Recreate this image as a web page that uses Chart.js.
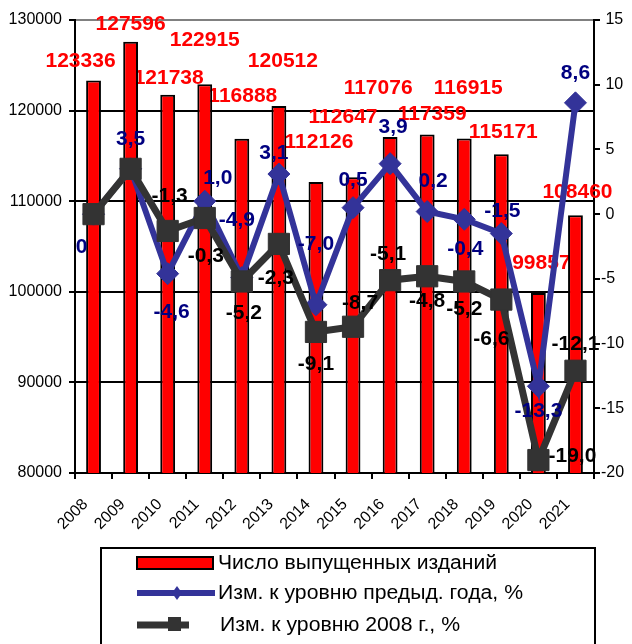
<!DOCTYPE html>
<html>
<head>
<meta charset="utf-8">
<script src="https://cdn.jsdelivr.net/npm/chart.js@4.4.1/dist/chart.umd.min.js"></script>
<style>
  html, body { margin: 0; padding: 0; background: #fff; }
</style>
</head>
<body>
<canvas id="chart" width="632" height="644"></canvas>
<script>
const years = ['2008', '2009', '2010', '2011', '2012', '2013', '2014', '2015', '2016', '2017', '2018', '2019', '2020', '2021'];
const editions = [123336, 127596, 121738, 122915, 116888, 120512, 112126, 112647, 117076, 117359, 116915, 115171, 99857, 108460];
const changePrevYear = [0, 3.5, -4.6, 1.0, -4.9, 3.1, -7.0, 0.5, 3.9, 0.2, -0.4, -1.5, -13.3, 8.6];
const change2008 = [0, 3.5, -1.3, -0.3, -5.2, -2.3, -9.1, -8.7, -5.1, -4.8, -5.2, -6.6, -19.0, -12.1];
const leftTicks = [80000, 90000, 100000, 110000, 120000, 130000];
const rightTicks = [-20, -15, -10, -5, 0, 5, 10, 15];
const legendNames = ['Число выпущенных изданий', 'Изм. к уровню предыд. года, %', 'Изм. к уровню 2008 г., %'];

// label nudges in px, relative to each mark (Excel placed them by hand)
const barLabelShift = [[-13, -19], [0, -18], [1, -17], [0, -44], [1, -43], [4, -45], [3, -40],
  [-10, -60], [-12, -49], [5, -20], [4, -50], [2, -22], [3, -30], [2, -23]];
const prevLabelShift = [[-12, 33], [0, -30], [4, 39], [13, -23], [-5, -57], [-5, -21], [0, -61],
  [0, -27], [3, -36], [6, -30], [1, 30], [1, -22], [0, 25], [0, -30]];
const baseLabelShift = [null, null, [2, -35], [1, 38], [2, 32], [-3, 34], [0, 32],
  [7, -24], [-2, -26], [0, 25], [0, 28], [-10, 40], [34, -4], [0, -27]];

const FONT = '"Liberation Sans", Arial, sans-serif';
const fmt = v => (v === 0 ? '0' : v.toFixed(1).replace('.', ','));

const labelPlugin = {
  id: 'valueLabels',
  beforeDatasetsDraw(chart) {
    // bar labels go under the bars, like in the original
    const ctx = chart.ctx;
    const bars = chart.getDatasetMeta(0).data;
    ctx.save();
    ctx.font = 'bold 21px ' + FONT;
    ctx.fillStyle = '#ff0000';
    ctx.textAlign = 'center';
    ctx.textBaseline = 'middle';
    bars.forEach((b, i) => {
      const s = barLabelShift[i];
      ctx.fillText(String(editions[i]), b.x + s[0], b.y + s[1]);
    });
    ctx.restore();
  },
  afterDatasetsDraw(chart) {
    const ctx = chart.ctx;
    ctx.save();
    ctx.font = 'bold 21px ' + FONT;
    ctx.textAlign = 'center';
    ctx.textBaseline = 'middle';
    ctx.fillStyle = '#000080';
    chart.getDatasetMeta(1).data.forEach((p, i) => {
      const s = prevLabelShift[i];
      ctx.fillText(fmt(changePrevYear[i]), p.x + s[0], p.y + s[1]);
    });
    ctx.fillStyle = '#000';
    chart.getDatasetMeta(2).data.forEach((p, i) => {
      const s = baseLabelShift[i];
      if (!s) return;
      ctx.fillText(fmt(change2008[i]), p.x + s[0], p.y + s[1]);
    });
    ctx.restore();
  },
  afterDraw(chart) {
    // legend box under the axis
    const ctx = chart.ctx;
    ctx.save();
    ctx.strokeStyle = '#000';
    ctx.lineWidth = 2;
    ctx.strokeRect(101, 548, 494, 110);

    ctx.fillStyle = '#ff0000';
    ctx.fillRect(137, 557, 76, 12);
    ctx.strokeRect(137, 557, 76, 12);

    ctx.strokeStyle = '#333399';
    ctx.lineWidth = 6;
    ctx.beginPath(); ctx.moveTo(137, 593); ctx.lineTo(215, 593); ctx.stroke();
    ctx.fillStyle = '#333399';
    ctx.beginPath();
    ctx.moveTo(177, 586); ctx.lineTo(182, 593); ctx.lineTo(177, 600); ctx.lineTo(172, 593);
    ctx.closePath(); ctx.fill();

    ctx.strokeStyle = '#333333';
    ctx.lineWidth = 7;
    ctx.beginPath(); ctx.moveTo(137, 625); ctx.lineTo(189, 625); ctx.stroke();
    ctx.fillStyle = '#333333';
    ctx.fillRect(168, 617, 13, 14);

    ctx.fillStyle = '#000';
    ctx.font = '20px ' + FONT;
    ctx.textBaseline = 'middle';
    const rows = [[218, 563, 279], [218, 593, 305], [220, 625, 240]];
    rows.forEach((r, i) => {
      const w = ctx.measureText(legendNames[i]).width;
      ctx.save();
      ctx.translate(r[0], r[1]);
      ctx.scale(r[2] / w, 1);
      ctx.fillText(legendNames[i], 0, 0);
      ctx.restore();
    });
    ctx.restore();
  }
};

new Chart(document.getElementById('chart'), {
  data: {
    labels: years,
    datasets: [{
      type: 'bar',
      label: legendNames[0],
      data: editions,
      yAxisID: 'y',
      backgroundColor: '#ff0000',
      borderColor: '#000',
      borderWidth: 2,
      barPercentage: 0.4,
      categoryPercentage: 1,
      order: 2
    }, {
      type: 'line',
      label: legendNames[1],
      data: changePrevYear,
      yAxisID: 'y1',
      borderColor: '#333399',
      borderWidth: 6,
      pointStyle: 'rectRot',
      pointRadius: 11,
      pointBackgroundColor: '#333399',
      pointBorderColor: '#333399',
      pointBorderWidth: 1,
      tension: 0,
      order: 1
    }, {
      type: 'line',
      label: legendNames[2],
      data: change2008,
      yAxisID: 'y1',
      borderColor: '#333333',
      borderWidth: 7,
      pointStyle: 'rect',
      pointRadius: 15,
      pointBackgroundColor: '#333333',
      pointBorderColor: '#333333',
      pointBorderWidth: 1,
      tension: 0,
      order: 0
    }]
  },
  options: {
    responsive: false,
    animation: false,
    devicePixelRatio: 1,
    layout: { padding: { top: 20, left: 0, right: 0, bottom: 0 } },
    plugins: {
      legend: { display: false },
      tooltip: { enabled: false }
    },
    scales: {
      x: {
        offset: true,
        grid: { offset: true, drawOnChartArea: false, color: '#000', lineWidth: 2, tickLength: 6 },
        border: { color: '#000', width: 2 },
        ticks: {
          minRotation: 45, maxRotation: 45, padding: 16, labelOffset: -8,
          color: '#000', font: { family: FONT, size: 16 }
        },
        afterFit(s) { s.height = 171; }
      },
      y: {
        position: 'left',
        min: 80000,
        max: 130000,
        afterBuildTicks(s) { s.ticks = leftTicks.map(v => ({ value: v })); },
        grid: {
          color: c => (c.tick && c.tick.value === 130000 ? '#808080' : '#000'),
          tickColor: '#000',
          lineWidth: 2,
          tickLength: 6
        },
        border: { color: '#000', width: 2 },
        ticks: { padding: 7, color: '#000', font: { family: FONT, size: 16 }, callback: v => String(v) },
        afterFit(s) { s.width = 75; }
      },
      y1: {
        position: 'right',
        min: -20,
        max: 15,
        afterBuildTicks(s) { s.ticks = rightTicks.map(v => ({ value: v })); },
        grid: { drawOnChartArea: false, color: '#000', lineWidth: 2, tickLength: 6 },
        border: { color: '#000', width: 2 },
        ticks: {
          padding: 1,
          color: '#000',
          font: { family: FONT, size: 16 },
          callback: v => (v >= 0 ? ' ' + v : String(v))
        },
        afterFit(s) { s.width = 38; }
      }
    }
  },
  plugins: [labelPlugin]
});
</script>
</body>
</html>
